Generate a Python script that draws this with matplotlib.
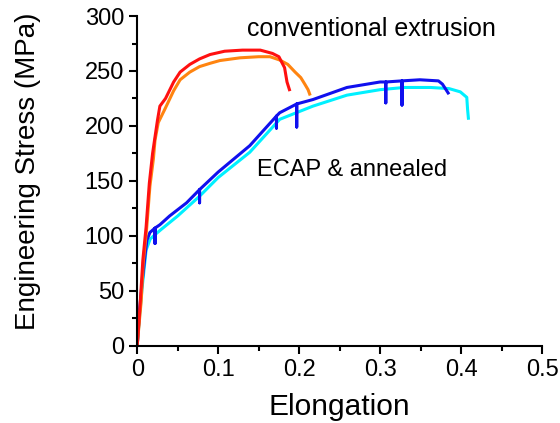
import matplotlib
matplotlib.use("Agg")
import matplotlib.pyplot as plt
from matplotlib.ticker import MultipleLocator

plt.rcParams.update({
    "font.family": ["Liberation Sans", "DejaVu Sans"],
    "font.size": 15,
})

# conventional extrusion, sample 1 (red)
red_x = [0, 0.002, 0.004, 0.007, 0.011, 0.015, 0.019, 0.022, 0.025, 0.028, 0.035,
         0.045, 0.053, 0.065, 0.077, 0.09, 0.108, 0.13, 0.152, 0.167, 0.175, 0.182,
         0.185, 0.188]
red_y = [0, 20, 42, 78, 108, 148, 175, 190, 205, 218, 225, 240, 249, 256, 261, 265,
         268, 269, 269, 266, 263, 253, 240, 233]

# conventional extrusion, sample 2 (orange)
orange_x = [0, 0.003, 0.005, 0.0074, 0.0115, 0.0157, 0.020, 0.022, 0.026, 0.034,
            0.045, 0.053, 0.065, 0.077, 0.09, 0.102, 0.127, 0.150, 0.164, 0.176,
            0.186, 0.195, 0.202, 0.207, 0.211, 0.213]
orange_y = [0, 25, 41, 75, 105, 145, 170, 187, 203, 215, 232, 242, 249, 254, 257,
            259.5, 262, 263, 263, 260, 256, 249, 244, 238, 233, 229]

# ECAP & annealed, sample 1 (blue)
blue_x = [0, 0.003, 0.006, 0.0095, 0.012, 0.0157, 0.022, 0.022, 0.022, 0.028, 0.04,
          0.061, 0.077, 0.077, 0.077, 0.1, 0.139, 0.172, 0.172, 0.172, 0.176, 0.197,
          0.197, 0.197, 0.217, 0.259, 0.300, 0.307, 0.307, 0.307, 0.327, 0.327,
          0.327, 0.349, 0.372, 0.377, 0.384]
blue_y = [0, 33, 57, 81, 96, 103, 107, 93, 107, 110, 118, 130, 142, 130, 142, 158,
          182, 209, 198, 209, 212, 220, 199, 220, 224, 235, 240, 240, 221, 240, 241,
          219, 241, 242, 241, 238, 230]

# ECAP & annealed, sample 2 (cyan)
cyan_x = [0, 0.003, 0.006, 0.011, 0.016, 0.022, 0.03, 0.05, 0.077, 0.1, 0.139,
          0.176, 0.217, 0.259, 0.300, 0.33, 0.362, 0.385, 0.399, 0.407, 0.408, 0.409]
cyan_y = [0, 28, 52, 87, 97, 101, 106, 118, 136, 153, 176, 206, 218, 228, 233, 235,
          235, 234, 231, 226, 215, 207]

fig = plt.figure(figsize=(5.6, 4.23), dpi=100, facecolor="white")
ax = fig.add_axes([0.245, 0.183, 0.723, 0.779])

ax.plot(cyan_x, cyan_y, color="#00f0ff", lw=2.2)
ax.plot(blue_x, blue_y, color="#1010ee", lw=2.2)
ax.plot(orange_x, orange_y, color="#ff8410", lw=2.2)
ax.plot(red_x, red_y, color="#ff1010", lw=2.2)

ax.set_xlim(0, 0.5)
ax.set_ylim(0, 300)
ax.xaxis.set_minor_locator(MultipleLocator(0.05))
ax.yaxis.set_major_locator(MultipleLocator(50))
ax.yaxis.set_minor_locator(MultipleLocator(25))
ax.set_xticks([0, 0.1, 0.2, 0.3, 0.4, 0.5])
ax.set_xticklabels(["0", "0.1", "0.2", "0.3", "0.4", "0.5"])

for side in ("top", "right"):
    ax.spines[side].set_visible(False)
for side in ("left", "bottom"):
    ax.spines[side].set_linewidth(1.5)
ax.tick_params(which="major", direction="out", length=6, width=1.5, labelsize=17)
ax.tick_params(which="minor", direction="out", length=3.5, width=1.5)

ax.set_xlabel("Elongation", fontsize=21.5, labelpad=9)
ax.set_ylabel("Engineering Stress (MPa)", fontsize=20)
ax.yaxis.set_label_coords(-0.237, 0.53)

ax.text(0.135, 288, "conventional extrusion", fontsize=18, va="center")
ax.text(0.148, 160, "ECAP & annealed", fontsize=17, va="center")

fig.savefig("out.png", dpi=100, facecolor="white")
